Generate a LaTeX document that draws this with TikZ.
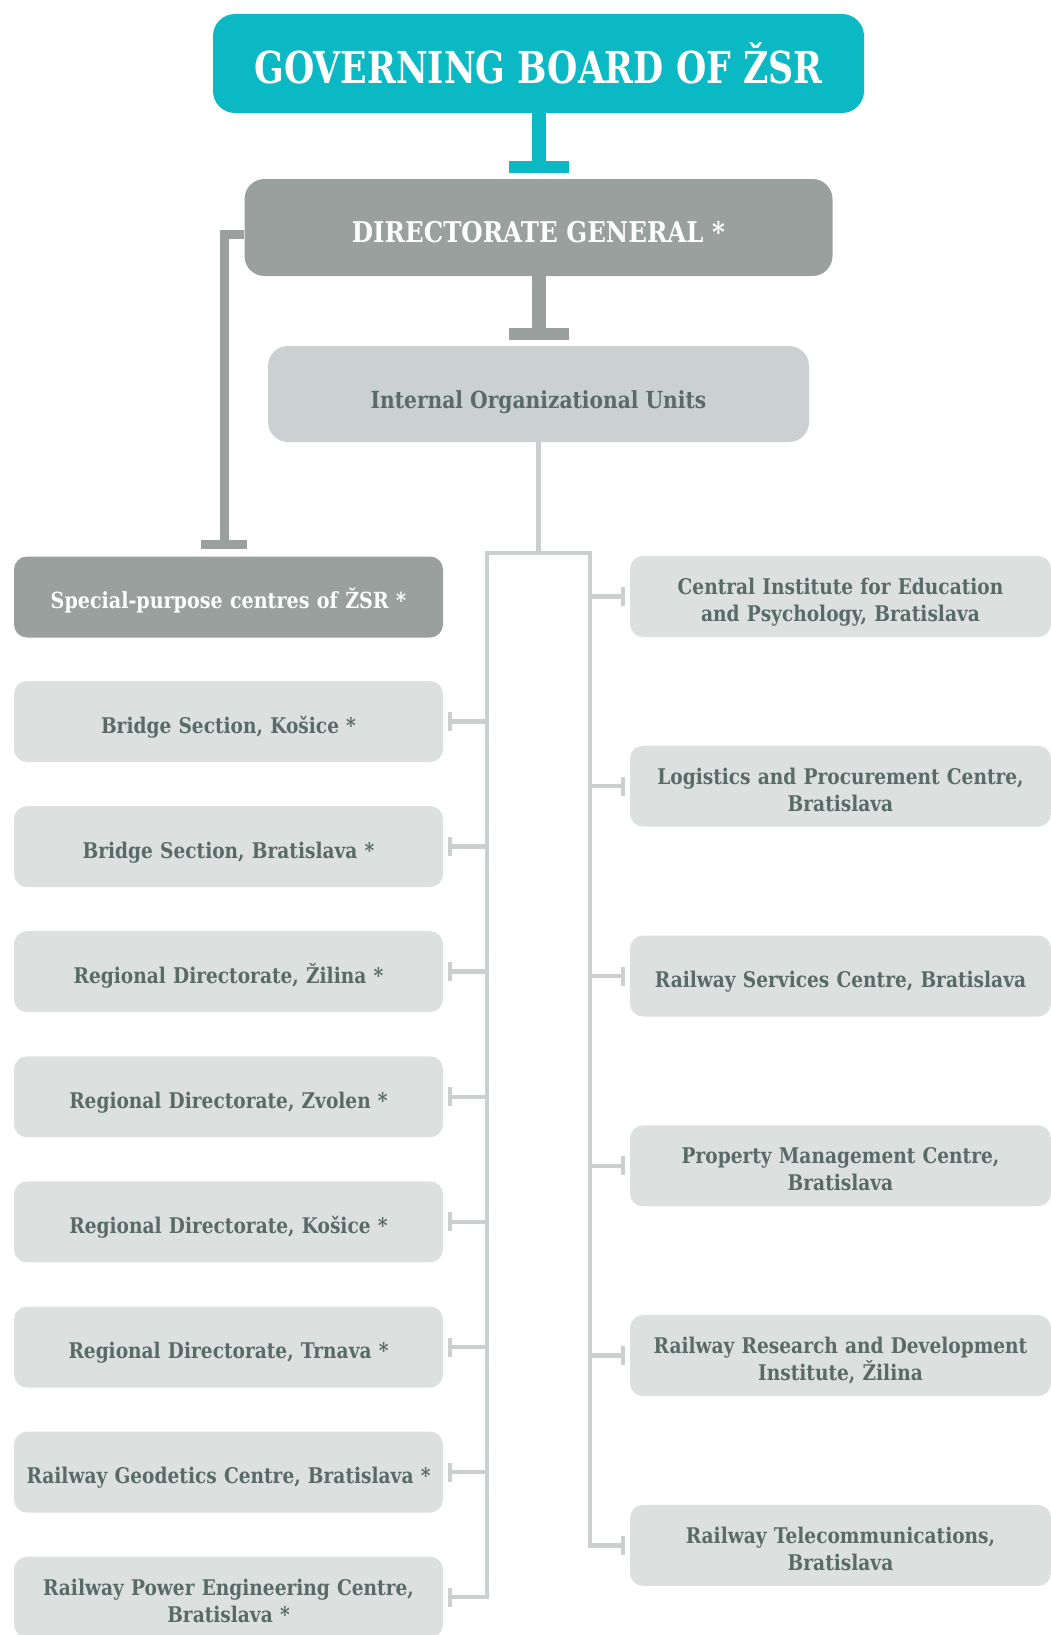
\documentclass[tikz,border=0pt]{standalone}
\usepackage{fontspec}
\setmainfont{DejaVu Serif}[FakeStretch=0.86]
\newfontfamily\titlefont{DejaVu Serif}[FakeStretch=0.79]
\usepackage{xcolor}
\usetikzlibrary{arrows.meta}

\definecolor{zsrcyan}{HTML}{0BB9C4}
\definecolor{zsrdark}{HTML}{99A09E}
\definecolor{zsrmid}{HTML}{CBD1D0}
\definecolor{zsrlight}{HTML}{DCE1E0}
\definecolor{zsrline}{HTML}{CBD0CF}
\definecolor{zsrtext}{HTML}{5A6B67}

% invisible struts that push a label down in its box
\newcommand{\zsrstrut}[1]{\rule{0pt}{#1}}
\newcommand{\zsrdepth}{\rule[-6pt]{0pt}{6pt}}

\begin{document}
\begin{tikzpicture}[x=1pt, y=-1pt,
    unit/.style={rounded corners=13pt, inner sep=0pt, align=center, minimum height=81pt,
      fill=zsrlight, text=zsrtext, font=\fontsize{21.6}{27}\selectfont\bfseries,
      execute at begin node={\zsrstrut{29pt}}, execute at end node={\zsrdepth}},
    leftunit/.style={unit, minimum width=429pt, text width=412pt},
    rightunit/.style={unit, minimum width=421pt, text width=405pt},
    rail/.style={zsrline, line width=4.5pt},
    tick/.style={rail, -{Bar[width=19pt, line width=4pt]}, shorten >=5pt},
    stem/.style={line width=14pt, -{Bar[width=60pt, line width=12pt]}, shorten >=6pt}
  ]
      % Page frame
      \useasboundingbox (0,0) rectangle (1051,1635);
      \clip (0,0) rectangle (1051,1635);

      % Top of the hierarchy
      \node[rounded corners=22pt, fill=zsrcyan, text=white, minimum width=651pt,
        minimum height=99pt, text depth=0pt, font=\fontsize{44}{50}\titlefont\bfseries]
        (board) at (538.5,63.5) {GOVERNING BOARD OF ŽSR};
      \node[rounded corners=20pt, fill=zsrdark, text=white, minimum width=588pt,
        minimum height=97pt, text depth=0pt, font=\fontsize{28.5}{34}\selectfont\bfseries,
        execute at begin node={\zsrstrut{29pt}}]
        (dirgen) at (538.5,227.5) {DIRECTORATE GENERAL *};
      \node[unit, fill=zsrmid, rounded corners=20pt, minimum width=541pt,
        minimum height=96pt, text depth=0pt, font=\fontsize{23.5}{27}\selectfont\bfseries,
        execute at begin node={\zsrstrut{28pt}}]
        (units) at (538.5,394) {Internal Organizational Units};
      \node[leftunit, fill=zsrdark, text=white, font=\fontsize{22.2}{27}\selectfont\bfseries,
        execute at begin node={\zsrstrut{29.5pt}}]
        (special) at (228.5,597) {Special-purpose centres of ŽSR *};

      % Thick connectors
      \draw[stem, zsrcyan] (board) -- (dirgen);
      \draw[stem, zsrdark] (dirgen) -- (units);
      \coordinate (spin) at (224,557);
      \draw[zsrdark, line width=9pt, -{Bar[width=46pt, line width=9pt]}, shorten >=8pt]
        ([yshift=-7pt]dirgen.west) -| (spin);

      % Special-purpose centres
      \foreach \txt [count=\i] in {{Bridge Section, Košice *},
          {Bridge Section, Bratislava *},
          {Regional Directorate, Žilina *},
          {Regional Directorate, Zvolen *},
          {Regional Directorate, Košice *},
          {Regional Directorate, Trnava *},
          {Railway Geodetics Centre, Bratislava *},
          {Railway Power Engineering Centre,\\Bratislava *}} {
        \node[leftunit] (left\i) at (228.5,{596.4+125.1*\i}) {\txt};
      }

      % Internal organizational units
      \foreach \txt [count=\i] in {{Central Institute for Education\\and Psychology, Bratislava},
          {Logistics and Procurement Centre,\\Bratislava},
          {Railway Services Centre, Bratislava},
          {Property Management Centre,\\Bratislava},
          {Railway Research and Development\\Institute, Žilina},
          {Railway Telecommunications,\\Bratislava}} {
        \node[rightunit] (right\i) at (840.5,{406.6+189.8*\i}) {\txt};
      }

      % Rails
      \coordinate (split) at (538.5,553);
      \coordinate (lrail) at (487,553);
      \coordinate (rrail) at (590,553);
      \draw[rail] (units) -- (split);
      \draw[rail, line cap=rect] (left8.east -| lrail) -- (lrail) -- (rrail) -- (right6.west -| rrail);
      \foreach \i in {1,...,8} {
        \draw[tick] (left\i.east -| lrail) -- (left\i.east);
      }
      \foreach \i in {1,...,6} {
        \draw[tick] (right\i.west -| rrail) -- (right\i.west);
      }
\end{tikzpicture}
\end{document}
